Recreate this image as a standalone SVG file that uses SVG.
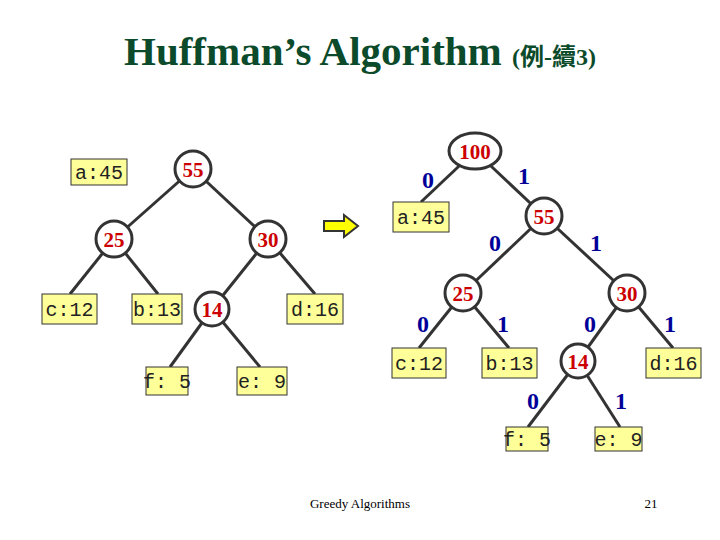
<svg xmlns="http://www.w3.org/2000/svg" width="720" height="540" viewBox="0 0 720 540">
<style>
.bx rect{fill:#FFFF99;stroke:#333;stroke-width:1}
.bx text{font-family:"Liberation Mono",monospace;font-size:20px;fill:#222;text-anchor:middle}
.cn circle,.cn ellipse{fill:#fff;stroke:#333;stroke-width:3}
.cn text{font-family:"Liberation Serif",serif;font-weight:bold;font-size:21px;fill:#CC0000;text-anchor:middle}
.ed line{stroke:#333;stroke-width:3}
.lb{font-family:"Liberation Serif",serif;font-weight:bold;font-size:24px;fill:#000099;text-anchor:middle}
</style>
<rect width="720" height="540" fill="#fff"/>
<text x="360" y="65" text-anchor="middle" font-family="Liberation Serif,Noto Sans CJK TC,serif" font-weight="bold" font-size="41" fill="#0B4A2A">Huffman’s Algorithm <tspan font-size="24">(例-續3)</tspan></text>
<g class="ed">
<line x1="193" y1="169" x2="114" y2="239"/><line x1="193" y1="169" x2="268" y2="239"/>
<line x1="114" y1="239" x2="70" y2="294"/><line x1="114" y1="239" x2="158" y2="294"/>
<line x1="268" y1="239" x2="212" y2="309"/><line x1="268" y1="239" x2="315" y2="294"/>
<line x1="212" y1="309" x2="170" y2="367"/><line x1="212" y1="309" x2="260" y2="367"/>
<line x1="475" y1="151" x2="421" y2="202"/><line x1="475" y1="151" x2="544" y2="216"/>
<line x1="544" y1="216" x2="463" y2="293"/><line x1="544" y1="216" x2="627" y2="293"/>
<line x1="463" y1="293" x2="419" y2="348"/><line x1="463" y1="293" x2="509" y2="348"/>
<line x1="627" y1="293" x2="578" y2="361"/><line x1="627" y1="293" x2="673" y2="348"/>
<line x1="578" y1="361" x2="528" y2="427"/><line x1="578" y1="361" x2="620" y2="427"/>
</g>
<g id="L_a" class="bx"><rect x="71" y="159" width="56" height="26"/><text x="99" y="179">a:45</text></g>
<g id="L_c" class="bx"><rect x="42" y="294" width="55" height="30"/><text x="69.5" y="316">c:12</text></g>
<g id="L_b" class="bx"><rect x="132" y="294" width="50" height="30"/><text x="157" y="316">b:13</text></g>
<g id="L_d" class="bx"><rect x="287" y="294" width="56" height="30"/><text x="315" y="316">d:16</text></g>
<g id="L_f" class="bx"><rect x="146" y="367" width="42" height="28"/><text x="167" y="388">f: 5</text></g>
<g id="L_e" class="bx"><rect x="237" y="367" width="50" height="28"/><text x="262" y="388">e: 9</text></g>
<g id="L_55" class="cn"><circle cx="193" cy="169" r="18"/><text x="193" y="177">55</text></g>
<g id="L_25" class="cn"><circle cx="114" cy="239" r="18"/><text x="114" y="247">25</text></g>
<g id="L_30" class="cn"><circle cx="268" cy="239" r="18"/><text x="268" y="247">30</text></g>
<g id="L_14" class="cn"><circle cx="212" cy="309" r="17"/><text x="212" y="317">14</text></g>
<g id="arrow"><path d="M324,221 H344 V215 L358,226 L344,237 V231 H324 Z" fill="#FFFF00" stroke="#333" stroke-width="2"/></g>
<g id="R_a" class="bx"><rect x="393" y="202" width="56" height="30"/><text x="421" y="224">a:45</text></g>
<g id="R_c" class="bx"><rect x="392" y="348" width="54" height="30"/><text x="419" y="370">c:12</text></g>
<g id="R_b" class="bx"><rect x="482" y="348" width="55" height="30"/><text x="509.5" y="370">b:13</text></g>
<g id="R_d" class="bx"><rect x="646" y="348" width="55" height="30"/><text x="673.5" y="370">d:16</text></g>
<g id="R_f" class="bx"><rect x="506" y="427" width="42" height="24"/><text x="527" y="446">f: 5</text></g>
<g id="R_e" class="bx"><rect x="595" y="427" width="47" height="24"/><text x="618.5" y="446">e: 9</text></g>
<g id="R_100" class="cn"><ellipse cx="475" cy="151" rx="26" ry="18"/><text x="475" y="159">100</text></g>
<g id="R_55" class="cn"><circle cx="544" cy="216" r="18"/><text x="544" y="224">55</text></g>
<g id="R_25" class="cn"><circle cx="463" cy="293" r="18"/><text x="463" y="301">25</text></g>
<g id="R_30" class="cn"><circle cx="627" cy="293" r="18"/><text x="627" y="301">30</text></g>
<g id="R_14" class="cn"><circle cx="578" cy="361" r="17"/><text x="578" y="369">14</text></g>
<g id="labels">
<text class="lb" x="428" y="188">0</text><text class="lb" x="524" y="184">1</text>
<text class="lb" x="495" y="251">0</text><text class="lb" x="596" y="251">1</text>
<text class="lb" x="423" y="332">0</text><text class="lb" x="503" y="332">1</text>
<text class="lb" x="590" y="332">0</text><text class="lb" x="670" y="332">1</text>
<text class="lb" x="533" y="409">0</text><text class="lb" x="621" y="409">1</text>
</g>
<text x="360" y="508" text-anchor="middle" font-family="Liberation Serif,serif" font-size="13">Greedy Algorithms</text>
<text x="651" y="508" text-anchor="middle" font-family="Liberation Serif,serif" font-size="13">21</text>
</svg>
